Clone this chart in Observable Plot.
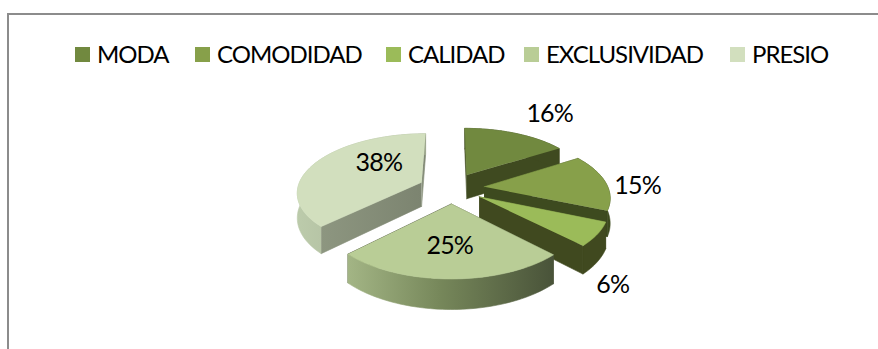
<!DOCTYPE html>
<html><head><meta charset="utf-8">
<script src="https://cdn.jsdelivr.net/npm/d3@7"></script>
<script src="https://cdn.jsdelivr.net/npm/@observablehq/plot@0.6"></script>
<style>
html,body{margin:0;padding:0;background:#fff;width:878px;height:349px;overflow:hidden}
#wrap{position:relative;width:878px;height:349px;font-family:Lato,sans-serif}
#frame{position:absolute;left:7px;top:13px;right:-4px;bottom:-4px;border:2px solid #8c8c8c;box-sizing:border-box}
#legend{position:absolute;left:0;top:38px;width:878px;height:32px;font-size:24px;letter-spacing:-1px;line-height:32px;color:#000;white-space:nowrap}
#legend div{position:absolute;top:0;display:flex;align-items:center}
#legend i{display:block;width:15px;height:15px;margin-right:7px}
#chart{position:absolute;left:0;top:0}
</style></head>
<body><div id="wrap"><div id="frame"></div><div id="chart"></div><div id="legend"></div></div>
<script>
const categories = ["MODA","COMODIDAD","CALIDAD","EXCLUSIVIDAD","PRESIO"];
// shares; they round to the printed 16, 15, 6, 25, 38
const percents = [16,15.4,6.3,24.8,37.5];
const topColors = ["#71893f","#87a04a","#9bbb59","#b9cd96","#d2dfbe"];
const sideColors = ["#3f4a20","#3d4a1f","#40491f","url(#gExcl)","url(#gPresArc)"];
const radialColors = ["#3f4a20","#3d4a1f","#40491f","#4a5238","url(#gPresRad)"];
const legendLeft = [75,195,386,524,730];
// label position: radius and angle (degrees clockwise from the back) on each exploded slice's own plane
const labelRadius = [1.63,1.247,1.43,0.6,0.525];
const labelAngle = [32,89,145.4,181,313.2];

// 3D view
const explode = 0.265, persp = 0.156, depth = 0.425;
const project = (X,Y,Z=0) => { const s = 1/(1-persp*Y); return {x:X*s, y:(Y+Z)*s}; };
const total = d3.sum(percents);
let acc = 0;
const slices = percents.map((v,i)=>{
  const a0 = acc/total*2*Math.PI; acc += v; const a1 = acc/total*2*Math.PI;
  const mid = (a0+a1)/2;
  return {i,a0,a1,ox:explode*Math.sin(mid),oy:-explode*Math.cos(mid)};
});
const pt = (s,r,a,z=0)=>project(s.ox+r*Math.sin(a), s.oy-r*Math.cos(a), z);
const arcPts = (s,z)=>d3.range(0,61).map(k=>pt(s,1,s.a0+(s.a1-s.a0)*k/60,z));

const marks = [];
marks.push(()=>{
  const ns="http://www.w3.org/2000/svg";
  const defs=document.createElementNS(ns,"defs");
  defs.innerHTML=`
  <linearGradient id="gExcl"><stop offset="0" stop-color="#a3b585"/><stop offset=".45" stop-color="#76875a"/><stop offset="1" stop-color="#495339"/></linearGradient>
  <linearGradient id="gPresArc"><stop offset="0" stop-color="#bccbab"/><stop offset="1" stop-color="#a0ab90"/></linearGradient>
  <linearGradient id="gPresRad" x1="0" x2="1"><stop offset="0" stop-color="#8d9680"/><stop offset="1" stop-color="#7c8470"/></linearGradient>`;
  return defs;
});
const face = (pts,fill)=>marks.push(Plot.line(pts,{x:"x",y:"y",fill,stroke:fill,strokeWidth:0.6,curve:"linear"}));
// painter's order: back to front
[4,0,1,2,3].forEach(i=>{
  const s = slices[i];
  const A = pt(s,0,0), Ab = pt(s,0,0,depth);
  for (const a of [s.a0,s.a1]) face([A,pt(s,1,a),pt(s,1,a,depth),Ab],radialColors[i]);
  const t = arcPts(s,0), b = arcPts(s,depth).reverse();
  face([...t,...b],sideColors[i]);
  face([A,...t],topColors[i]);
});
const labels = slices.map(s=>{
  const a = labelAngle[s.i]*Math.PI/180, r = labelRadius[s.i];
  return {...pt(s,r,a),t:Math.round(percents[s.i])+"%"};
});
marks.push(Plot.text(labels,{x:"x",y:"y",text:"t",fontSize:25,fill:"#000"}));

const cx=451, cy=187.5, ax=124, ay=57.7;
const W=878,H=349;
const chart = Plot.plot({
  width:W,height:H,margin:0,
  x:{domain:[-cx/ax,(W-cx)/ax],range:[0,W],axis:null},
  y:{domain:[-cy/ay,(H-cy)/ay],range:[0,H],axis:null},
  style:{background:"transparent",fontFamily:"Lato, sans-serif",letterSpacing:"-0.8px"},
  marks
});
document.getElementById("chart").append(chart);
const lg=document.getElementById("legend");
categories.forEach((c,i)=>{
  const d=document.createElement("div");
  d.style.left=legendLeft[i]+"px";
  const sw=document.createElement("i"); sw.style.background=topColors[i];
  d.append(sw,document.createTextNode(c)); lg.append(d);
});
</script></body></html>
